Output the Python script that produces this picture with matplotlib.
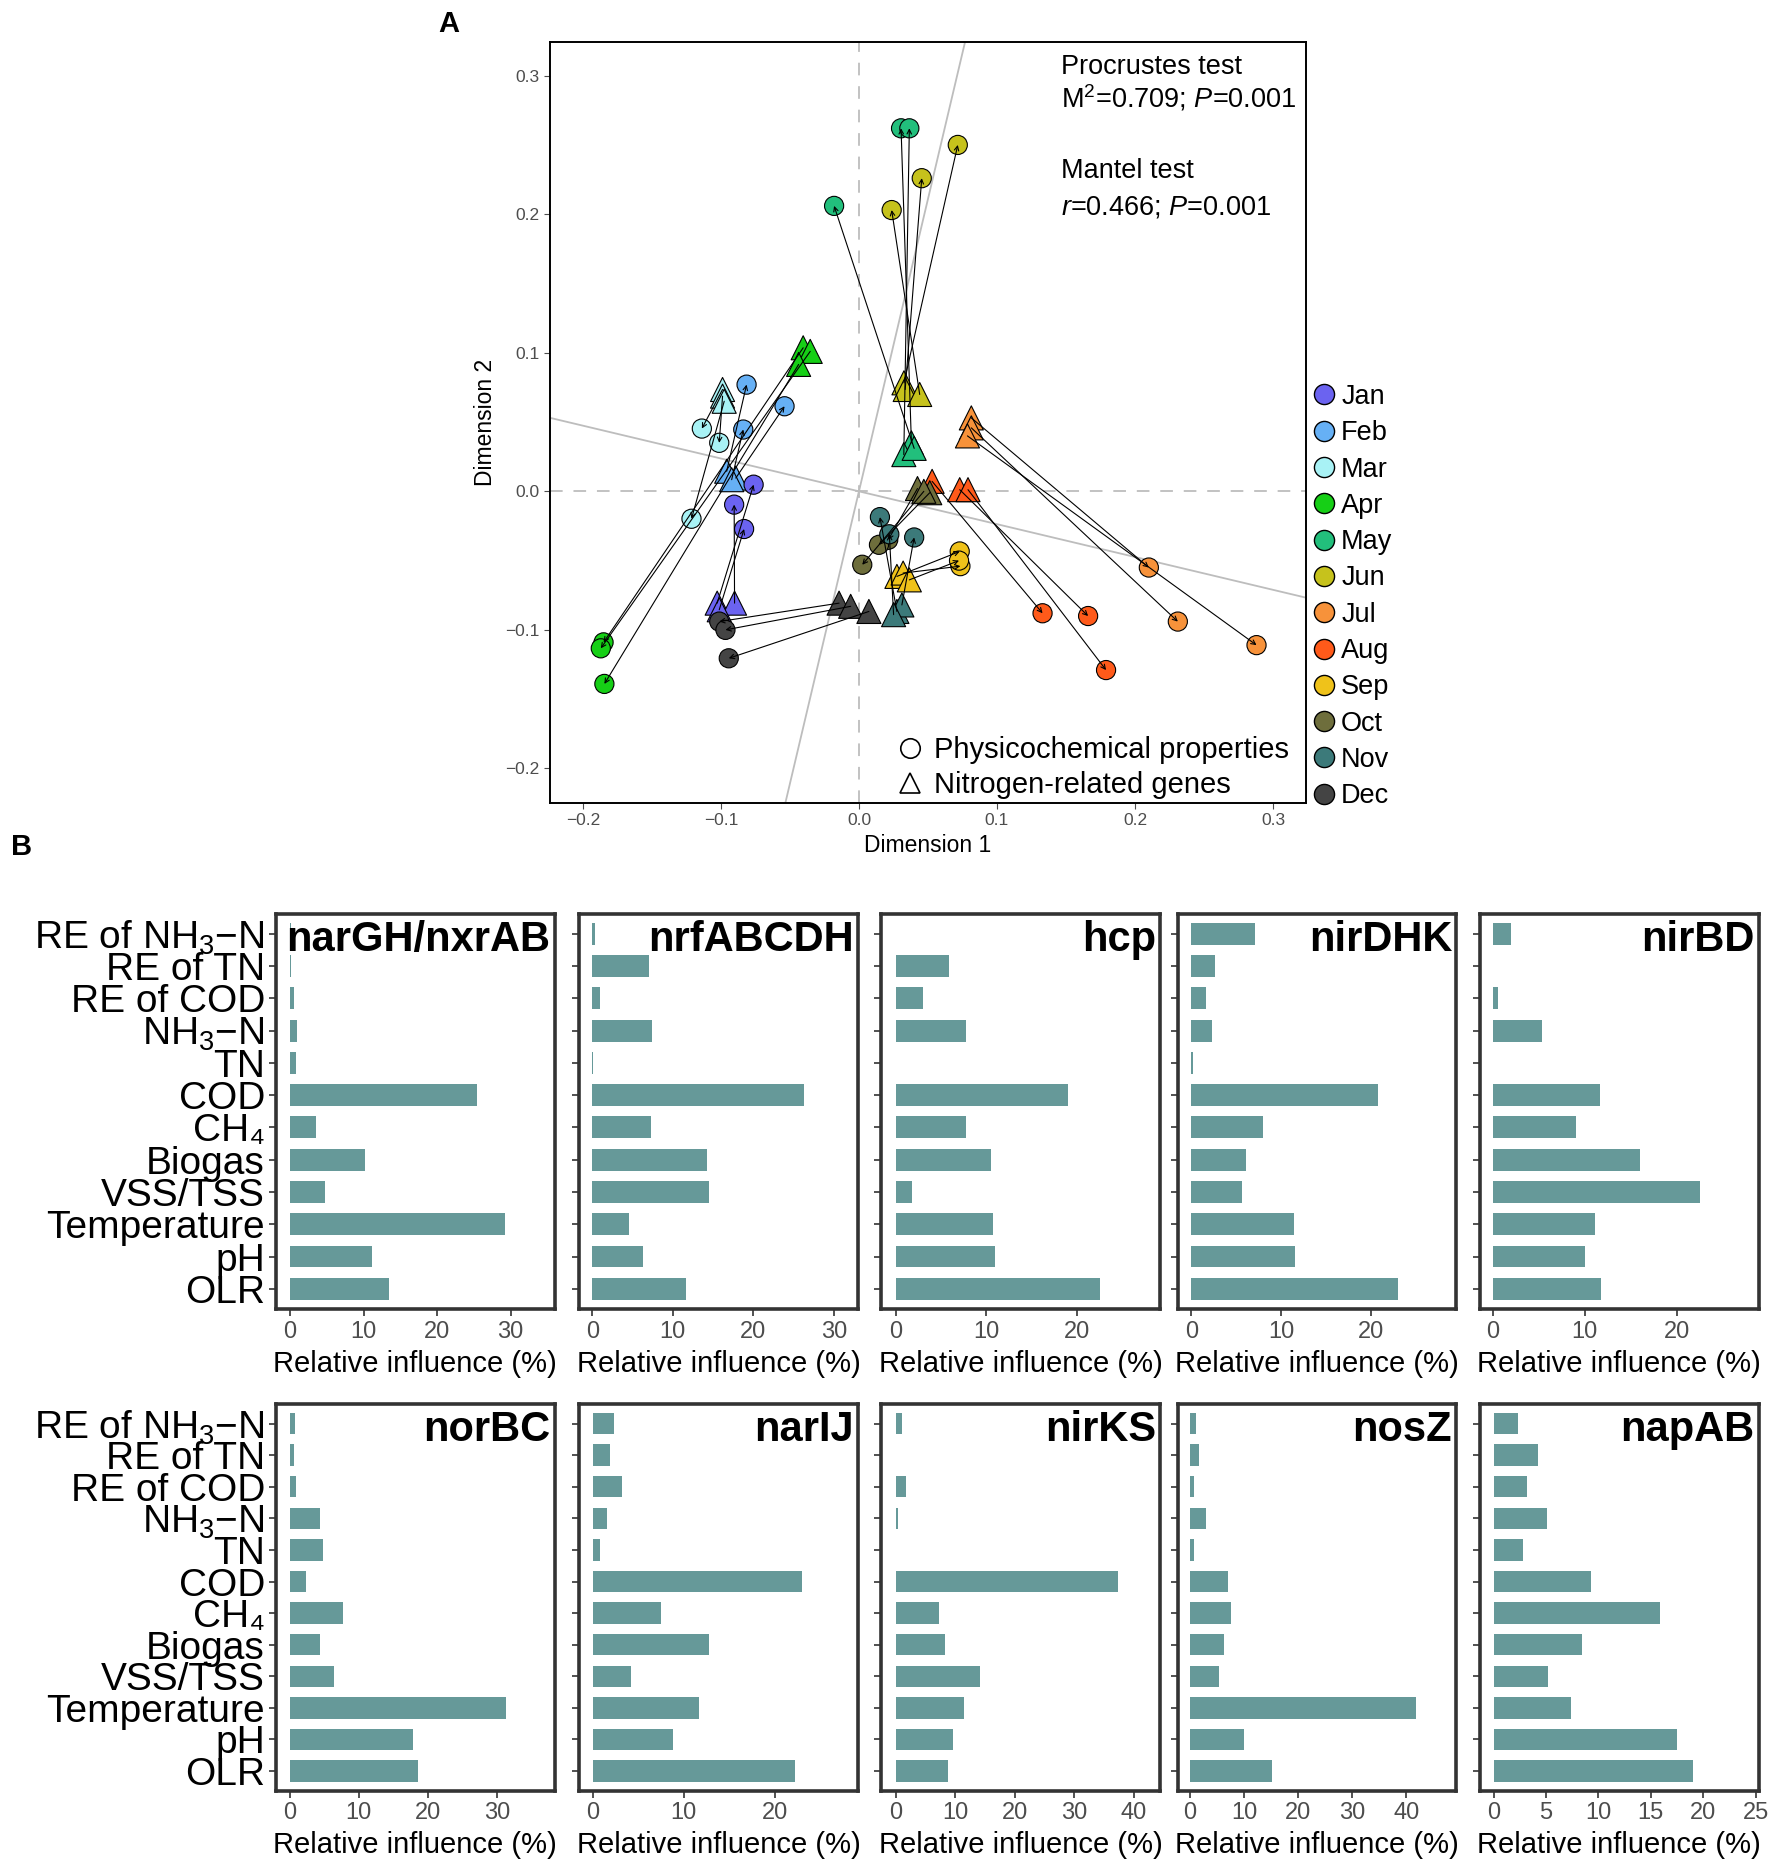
import numpy as np
import matplotlib

matplotlib.use("Agg")
import matplotlib.pyplot as plt
from matplotlib.lines import Line2D

plt.rcParams["font.family"] = ["Liberation Sans", "DejaVu Sans"]
plt.rcParams["mathtext.fontset"] = "custom"
plt.rcParams["mathtext.rm"] = "Liberation Sans"
plt.rcParams["mathtext.it"] = "Liberation Sans:italic"
plt.rcParams["mathtext.bf"] = "Liberation Sans:bold"

# ---- panel A: Procrustes ordination (3 samples per month) ----
MONTHS = ["Jan", "Feb", "Mar", "Apr", "May", "Jun",
          "Jul", "Aug", "Sep", "Oct", "Nov", "Dec"]
MONTH_COLORS = ["#6b63f0", "#66b0f5", "#a8f2f5", "#16cf16", "#22bf7c", "#c6c21c",
                "#f7923a", "#ff5a1a", "#efc21a", "#6e6e3c", "#3c7a7a", "#444444"]
SAMPLE_MONTH = [0, 0, 0, 1, 1, 1, 2, 2, 2, 3, 3, 3, 4, 4, 4, 5, 5, 5,
                6, 6, 6, 7, 7, 7, 8, 8, 8, 9, 9, 9, 10, 10, 10, 11, 11, 11]

# nitrogen-related genes (triangles)
GENE_X = [-0.1027, -0.0901, -0.1012, -0.0958, -0.0892, -0.0922,
          -0.0988, -0.0988, -0.0976, -0.0404, -0.0353, -0.0437,
          0.0380, 0.0325, 0.0400, 0.0326, 0.0335, 0.0440,
          0.0814, 0.0814, 0.0786, 0.0530, 0.0730, 0.0790,
          0.0275, 0.0320, 0.0365, 0.0424, 0.0513, 0.0470,
          0.0275, 0.0311, 0.0251, -0.0144, -0.0060, 0.0072]
GENE_Y = [-0.0807, -0.0807, -0.0855, 0.0145, 0.0096, 0.0084,
          0.0735, 0.0687, 0.0650, 0.1036, 0.1010, 0.0916,
          0.0350, 0.0265, 0.0310, 0.0783, 0.0735, 0.0699,
          0.0530, 0.0458, 0.0400, 0.0072, 0.0012, 0.0012,
          -0.0614, -0.0590, -0.0639, 0.0020, -0.0010, 0.0000,
          -0.0867, -0.0820, -0.0890, -0.0807, -0.0830, -0.0867]
# physicochemical properties (circles)
PHYS_X = [-0.0763, -0.0904, -0.0832, -0.0814, -0.0539, -0.0838,
          -0.1138, -0.1012, -0.1213, -0.1850, -0.1870, -0.1844,
          0.0305, 0.0365, -0.0180, 0.0716, 0.0455, 0.0237,
          0.2100, 0.2310, 0.2880, 0.1330, 0.1660, 0.1790,
          0.0730, 0.0735, 0.0725, 0.0212, 0.0145, 0.0024,
          0.0152, 0.0400, 0.0220, -0.1012, -0.0967, -0.0943]
PHYS_Y = [0.0048, -0.0096, -0.0272, 0.0770, 0.0614, 0.0446,
          0.0453, 0.0350, -0.0198, -0.1090, -0.1133, -0.1390,
          0.2620, 0.2620, 0.2060, 0.2500, 0.2260, 0.2030,
          -0.0550, -0.0940, -0.1110, -0.0880, -0.0900, -0.1290,
          -0.0434, -0.0540, -0.0500, -0.0350, -0.0386, -0.0530,
          -0.0186, -0.0333, -0.0310, -0.0940, -0.1000, -0.1205]
ROTATION_SLOPE = -0.237

# ---- panel B: relative influence (%) of each variable ----
VARIABLES = ["RE of NH$_3$−N", "RE of TN", "RE of COD", "NH$_3$−N", "TN", "COD",
             "CH₄", "Biogas", "VSS/TSS", "Temperature", "pH", "OLR"]
GENES = ["narGH/nxrAB", "nrfABCDH", "hcp", "nirDHK", "nirBD",
         "norBC", "narIJ", "nirKS", "nosZ", "napAB"]
NARGH = [0.1, 0.15, 0.5, 0.9, 0.8, 25.4, 3.5, 10.2, 4.7, 29.3, 11.2, 13.4]
NRF = [0.3, 7.0, 1.0, 7.4, 0.05, 26.3, 7.3, 14.2, 14.5, 4.6, 6.3, 11.7]
HCP = [0.05, 5.9, 3.0, 7.7, 0.05, 19.0, 7.7, 10.5, 1.8, 10.7, 11.0, 22.6]
NIRDHK = [7.15, 2.6, 1.6, 2.3, 0.25, 20.8, 8.0, 6.1, 5.6, 11.4, 11.5, 23.0]
NIRBD = [2.0, 0.02, 0.55, 5.3, 0.02, 11.7, 9.0, 16.0, 22.5, 11.1, 10.0, 11.8]
NORBC = [0.8, 0.55, 0.9, 4.4, 4.85, 2.3, 7.75, 4.4, 6.4, 31.4, 17.8, 18.6]
NARIJ = [2.35, 1.9, 3.2, 1.5, 0.8, 23.0, 7.5, 12.8, 4.2, 11.7, 8.85, 22.3]
NIRKS = [1.0, 0.1, 1.7, 0.45, 0.05, 37.4, 7.3, 8.35, 14.2, 11.45, 9.6, 8.7]
NOSZ = [1.0, 1.6, 0.8, 2.9, 0.8, 7.1, 7.65, 6.3, 5.4, 41.8, 10.0, 15.2]
NAPAB = [2.3, 4.25, 3.2, 5.1, 2.8, 9.25, 15.9, 8.45, 5.15, 7.35, 17.5, 19.0]
INFLUENCE = [NARGH, NRF, HCP, NIRDHK, NIRBD, NORBC, NARIJ, NIRKS, NOSZ, NAPAB]
X_LIMITS = [(-1.9, 36), (-1.6, 33), (-1.6, 29.2), (-1.5, 29.5), (-1.4, 28.9),
            (-2.0, 38.4), (-1.5, 29.2), (-2.4, 44.4), (-2.3, 49.3), (-1.3, 25.3)]
X_TICKS = [[0, 10, 20, 30], [0, 10, 20, 30], [0, 10, 20], [0, 10, 20], [0, 10, 20],
           [0, 10, 20, 30], [0, 10, 20], [0, 10, 20, 30, 40], [0, 10, 20, 30, 40],
           [0, 5, 10, 15, 20, 25]]

BAR = "#669999"
GREY_TXT = "#4d4d4d"
FRAME = "#333333"


def panel_a(fig):
    ax = fig.add_axes([0.3097, 0.5687, 0.4262, 0.4089])
    ax.set_xlim(-0.224, 0.324)
    ax.set_ylim(-0.225, 0.3245)
    ax.axhline(0, color="#bdbdbd", lw=1.3, dashes=(7, 6), zorder=1)
    ax.axvline(0, color="#bdbdbd", lw=1.3, dashes=(7, 6), zorder=1)
    ax.axline((0, 0), slope=ROTATION_SLOPE, color="#bdbdbd", lw=1.3, zorder=1)
    ax.axline((0, 0), slope=-1 / ROTATION_SLOPE, color="#bdbdbd", lw=1.3, zorder=1)

    cols = [MONTH_COLORS[m] for m in SAMPLE_MONTH]
    ax.scatter(GENE_X, GENE_Y, s=300, marker="^", c=cols, edgecolors="black",
               linewidths=0.8, zorder=2)
    ax.scatter(PHYS_X, PHYS_Y, s=190, marker="o", c=cols, edgecolors="black",
               linewidths=0.8, zorder=2)
    for gx, gy, px, py in zip(GENE_X, GENE_Y, PHYS_X, PHYS_Y):
        ax.annotate("", xy=(px, py), xytext=(gx, gy),
                    arrowprops=dict(arrowstyle="->", color="black", lw=0.8,
                                    shrinkA=0, shrinkB=0, mutation_scale=8),
                    zorder=3)

    for sp in ax.spines.values():
        sp.set_linewidth(1.4)
        sp.set_color("black")
    ax.set_xticks([-0.2, -0.1, 0.0, 0.1, 0.2, 0.3])
    ax.set_yticks([-0.2, -0.1, 0.0, 0.1, 0.2, 0.3])
    ax.tick_params(labelsize=12.5, labelcolor=GREY_TXT, color=GREY_TXT, length=4)
    ax.set_xlabel("Dimension 1", fontsize=16.5, labelpad=4)
    ax.set_ylabel("Dimension 2", fontsize=16.5, labelpad=6)

    ax.text(0.1466, 0.301, "Procrustes test", fontsize=19.5, va="baseline")
    ax.text(0.1466, 0.277, "M$^{2}$=0.709; $P$=0.001", fontsize=19.5, va="baseline")
    ax.text(0.1466, 0.2258, "Mantel test", fontsize=19.5, va="baseline")
    ax.text(0.1466, 0.200, "$r$=0.466; $P$=0.001", fontsize=19.5, va="baseline")

    shape_handles = [
        Line2D([], [], ls="", marker="o", ms=14, mfc="white", mec="black", mew=1.2),
        Line2D([], [], ls="", marker="^", ms=15, mfc="white", mec="black", mew=1.2),
    ]
    leg1 = ax.legend(shape_handles, ["Physicochemical properties", "Nitrogen-related genes"],
                     loc="lower right", bbox_to_anchor=(1.0, -0.018), frameon=False,
                     fontsize=21, handletextpad=0.3, labelspacing=0.25,
                     borderaxespad=0.2, handlelength=1.0)
    ax.add_artist(leg1)

    month_handles = [Line2D([], [], ls="", marker="o", ms=14.5, mfc=c, mec="black", mew=1.0)
                     for c in MONTH_COLORS]
    ax.legend(month_handles, MONTHS, loc="lower left", bbox_to_anchor=(1.005, -0.008),
              frameon=False, fontsize=19.5, handletextpad=0.15, labelspacing=0.38,
              borderaxespad=0.0, handlelength=1.0, borderpad=0.0)


def panel_b(fig):
    lefts = [0.1555, 0.3264, 0.4966, 0.6635, 0.8338]
    width = 0.157
    rows = [(0.2971, 0.2122), (0.0383, 0.2077)]
    ypos = np.arange(len(VARIABLES))
    for i, (gene, vals) in enumerate(zip(GENES, INFLUENCE)):
        r, c = divmod(i, 5)
        ax = fig.add_axes([lefts[c], rows[r][0], width, rows[r][1]])
        ax.barh(ypos, vals, height=0.68, color=BAR, zorder=2)
        ax.set_ylim(len(VARIABLES) - 1 + 0.62, -0.62)
        ax.set_xlim(*X_LIMITS[i])
        ax.set_xticks(X_TICKS[i])
        ax.set_yticks(ypos)
        if c == 0:
            ax.set_yticklabels(VARIABLES, fontsize=28)
        else:
            ax.set_yticklabels([])
        ax.tick_params(axis="x", labelsize=17, labelcolor=GREY_TXT, color=FRAME,
                       length=5, width=1.2)
        ax.tick_params(axis="y", color=FRAME, length=5, width=1.2, pad=3)
        for sp in ax.spines.values():
            sp.set_linewidth(2.6)
            sp.set_color(FRAME)
        ax.set_xlabel("Relative influence (%)", fontsize=21, labelpad=5)
        ax.text(0.985, 0.985, gene, transform=ax.transAxes, ha="right", va="top",
                fontsize=30, fontweight="bold")


def main():
    fig = plt.figure(figsize=(17.75, 18.62), dpi=100)
    panel_a(fig)
    panel_b(fig)
    fig.text(0.2527, 0.987, "A", fontsize=21, fontweight="bold", ha="center", va="center")
    fig.text(0.012, 0.545, "B", fontsize=21, fontweight="bold", ha="center", va="center")
    fig.savefig("out.png", dpi=100, facecolor="white")


if __name__ == "__main__":
    main()
